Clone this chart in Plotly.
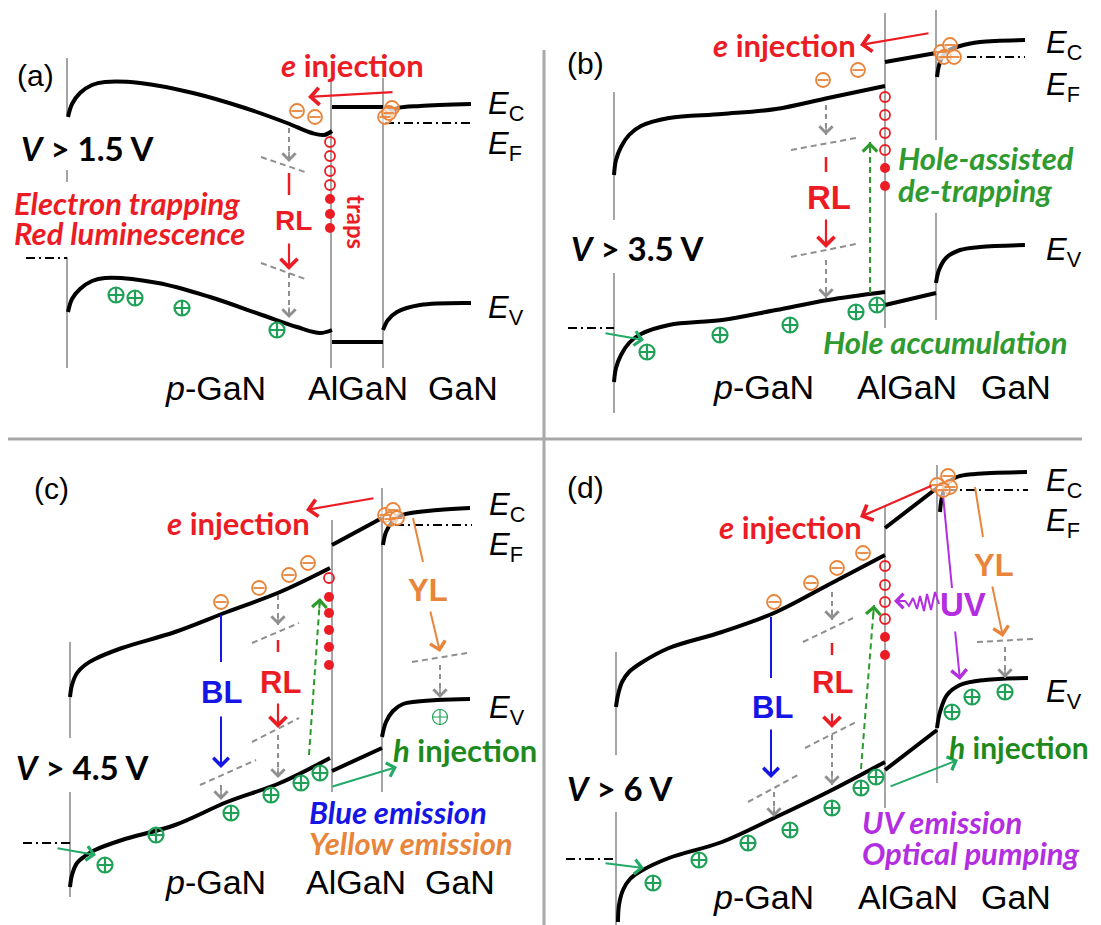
import plotly.graph_objects as go

# ---------------- data (pixel positions) ----------------
# band edges: (x, y) points
A_EC_P = [(68,117),(72,104),(80,93),(92,85),(105,82),(140,83),(193,93),(245,108),(287,123),(312,133),(324,135),(332,131)]
A_EC_AL = [(332,107),(383,107)]
A_EC_G = [(383,118),(388,112),(398,108),(420,106),(471,104)]
A_EV_P = [(68,312),(72,299),(80,289),(92,281),(105,278),(158,283),(210,297),(262,315),(297,327),(320,333),(332,330)]
A_EV_AL = [(332,342),(383,342)]
A_EV_G = [(383,330),(388,320),(397,312),(420,305),(471,303)]

B_EC_P = [(614,175),(616,160),(621,147),(629,135),(641,126),(669,118),(722,114),(776,109),(828,98),(885,86)]
B_EC_AL = [(885,62),(936,53)]
B_EC_G = [(937,77),(940,62),(946,52),(960,46),(980,42),(1025,40)]
B_EV_P = [(614,382),(616,368),(621,355),(629,343),(641,334),(669,325),(722,320),(776,310),(828,300),(885,292)]
B_EV_AL = [(885,305),(936,293)]
B_EV_G = [(936,283),(939,270),(946,258),(960,250),(980,247),(1025,245)]

C_EC_P = [(70,697),(72,685),(77,673),(85,665),(95,659),(122,648),(175,632),(227,612),(280,592),(330,568)]
C_EC_AL = [(332,545),(382,518)]
C_EC_G = [(383,545),(386,532),(392,522),(402,515),(438,510),(470,508)]
C_EV_P = [(70,887),(72,875),(77,863),(85,856),(95,850),(122,840),(175,825),(227,802),(280,783),(330,758)]
C_EV_AL = [(332,771),(382,748)]
C_EV_G = [(382,737),(386,722),(393,711),(403,704),(437,700),(470,699)]

D_EC_P = [(616,707),(618,695),(622,682),(629,672),(641,663),(669,648),(722,632),(774,613),(828,585),(885,555)]
D_EC_AL = [(885,528),(937,488)]
D_EC_G = [(940,512),(942,497),(947,484),(957,477),(975,474),(1027,472)]
D_EV_P = [(618,922),(619,905),(623,890),(630,879),(641,871),(669,858),(722,842),(774,818),(828,792),(885,762)]
D_EV_AL = [(885,770),(937,730)]
D_EV_G = [(937,728),(940,712),(947,695),(960,685),(985,680),(1028,678)]

# Fermi level dash-dot pieces: (x0, x1, y)
EF_LINES = [(26,67,258),(385,472,123),(568,614,328),(967,1025,57),
            (23,70,843),(395,472,525),(566,616,859),(947,1028,490)]

# gray interface lines: (x, y0, y1)
GRAY_V = [(67,58,115),(67,170,182),(67,257,368),(331,78,368),(383,78,368),
          (614,92,220),(614,273,413),(885,13,328),(936,10,140),(936,213,320),
          (70,642,738),(70,792,897),(332,520,792),(382,488,792),
          (616,652,755),(616,812,925),(885,507,808),(937,465,783)]
# frame lines: (x0, y0, x1, y1)
FRAME = [(8,439,1082,439),(544,50,544,925)]

# carriers
ELECTRONS = [(297,111),(315,117),(385,117),(392,108),(389,113),
             (823,80),(858,70),(941,52),(950,45),(944,57),(954,57),
             (221,602),(259,588),(289,575),(308,563),(385,515),(393,510),(390,519),(397,518),
             (774,602),(811,583),(837,568),(863,553),(937,485),(948,476),(950,487),(943,490)]
HOLES = [(116,295),(135,298),(182,308),(277,330),
         (647,352),(720,335),(790,325),(856,312),(877,305),
         (105,865),(156,835),(231,813),(271,795),(301,783),(320,773),
         (653,883),(699,860),(748,843),(790,830),(832,808),(861,788),(876,777),
         (952,712),(972,697),(1005,692)]
HOLES_THIN = [(440,717)]
TRAPS_OPEN = [(330,142),(330,156),(330,171),(330,185),
              (885,97),(885,115),(885,133),(885,150),
              (329,578),
              (885,566),(885,585),(885,602),(885,619)]
TRAPS_FILLED = [(330,199),(330,214),(330,228),
                (885,168),(885,186),
                (329,597),(329,613),(329,630),(329,647),(329,665),
                (885,637),(885,655)]

# arrows: (x0, y0, x1, y1)
RED_ARROWS = [(394,92,308,97),(930,33,860,45),(375,498,306,510),(933,485,860,517),
              (289,242,289,270),(826,218,826,248),(278,702,278,728),(832,712,832,728)]
RED_DASH = [(289,173,289,195),(826,157,826,172),(278,640,278,652),(832,643,832,655)]
GRAY_ARROWS = [(289,128,289,162),(289,273,289,318),(826,105,826,135),(826,260,826,298),
               (278,595,278,625),(278,735,278,778),(221,785,221,800),(440,665,440,698),
               (832,592,832,620),(832,735,832,785),(774,792,774,817),(1005,647,1005,678)]
GRAY_LEVELS = [(261,157,308,173),(261,263,308,280),(791,150,856,138),(791,257,856,244),
               (252,643,299,623),(252,742,299,718),(200,785,256,760),(412,662,467,653),
               (803,642,853,618),(805,748,856,722),(748,802,798,775),(977,642,1033,639)]
BLUE_LINES = [(221,615,221,662),(771,617,771,678)]
BLUE_ARROWS = [(221,715,221,768),(771,728,771,778)]
ORANGE_LINES = [(413,518,423,562),(975,487,983,537)]
ORANGE_ARROWS = [(430,610,440,652),(992,585,1003,637)]
PURPLE_LINES = [(943,495,952,588)]
PURPLE_ARROWS = [(955,630,960,680)]
UV_SQUIGGLE = [(939,604),(935,592),(931,610),(927,594),(924,611),(920,596),(917,609),(913,598),(909,606),(905,601),(896,601)]
GREEN_DASH_ARROWS = [(870,293,870,142),(309,755,320,598),(861,769,874,605)]
GREEN_ARROWS = [(604,333,644,340),(56,848,96,855),(604,863,644,868),(331,787,397,767),(889,787,958,760)]

# texts: (text, x, y, size, color key, font key, anchor)
TEXTS = [
    ("(a)", 15, 75, 30, "k", "ar", "left"),
    ("<b><i>e</i> injection</b>", 279, 65, 31, "r", "ca", "left"),
    ("<i>E</i><sub>C</sub>", 486, 106, 31, "k", "ar", "left"),
    ("<i>E</i><sub>F</sub>", 486, 146, 31, "k", "ar", "left"),
    ("<i>E</i><sub>V</sub>", 486, 310, 31, "k", "ar", "left"),
    ("<b><i>V</i> &gt; 1.5 V</b>", 19, 148, 33, "k", "ca", "left"),
    ("<b><i>Electron trapping</i></b>", 12, 203, 31, "r", "ca", "left"),
    ("<b><i>Red luminescence</i></b>", 12, 233, 31, "r", "ca", "left"),
    ("<b>RL</b>", 293, 220, 28, "r", "ar", "center"),
    ("<i>p</i>-GaN", 163, 388, 34, "k", "ar", "left"),
    ("AlGaN", 306, 388, 34, "k", "ar", "left"),
    ("GaN", 426, 388, 34, "k", "ar", "left"),

    ("(b)", 565, 63, 30, "k", "ar", "left"),
    ("<b><i>e</i> injection</b>", 711, 45, 31, "r", "ca", "left"),
    ("<i>E</i><sub>C</sub>", 1044, 45, 31, "k", "ar", "left"),
    ("<i>E</i><sub>F</sub>", 1044, 87, 31, "k", "ar", "left"),
    ("<i>E</i><sub>V</sub>", 1044, 252, 31, "k", "ar", "left"),
    ("<b><i>V</i> &gt; 3.5 V</b>", 569, 248, 33, "k", "ca", "left"),
    ("<b>RL</b>", 829, 197, 33, "r", "ar", "center"),
    ("<b><i>Hole-assisted</i></b>", 896, 158, 31, "g", "ca", "left"),
    ("<b><i>de-trapping</i></b>", 896, 190, 31, "g", "ca", "left"),
    ("<b><i>Hole accumulation</i></b>", 821, 342, 31, "g", "ca", "left"),
    ("<i>p</i>-GaN", 711, 387, 34, "k", "ar", "left"),
    ("AlGaN", 855, 387, 34, "k", "ar", "left"),
    ("GaN", 979, 387, 34, "k", "ar", "left"),

    ("(c)", 32, 488, 30, "k", "ar", "left"),
    ("<b><i>e</i> injection</b>", 165, 523, 31, "r", "ca", "left"),
    ("<i>E</i><sub>C</sub>", 487, 507, 31, "k", "ar", "left"),
    ("<i>E</i><sub>F</sub>", 487, 547, 31, "k", "ar", "left"),
    ("<i>E</i><sub>V</sub>", 487, 710, 31, "k", "ar", "left"),
    ("<b><i>V</i> &gt; 4.5 V</b>", 14, 767, 33, "k", "ca", "left"),
    ("<b>BL</b>", 221, 692, 31, "b", "ar", "center"),
    ("<b>RL</b>", 280, 682, 31, "r", "ar", "center"),
    ("<b>YL</b>", 428, 590, 31, "o", "ar", "center"),
    ("<b><i>h</i> injection</b>", 391, 750, 31, "gd", "ca", "left"),
    ("<b><i>Blue emission</i></b>", 307, 812, 31, "b", "ca", "left"),
    ("<b><i>Yellow emission</i></b>", 307, 843, 31, "o", "ca", "left"),
    ("<i>p</i>-GaN", 163, 882, 34, "k", "ar", "left"),
    ("AlGaN", 304, 882, 34, "k", "ar", "left"),
    ("GaN", 423, 882, 34, "k", "ar", "left"),

    ("(d)", 565, 487, 30, "k", "ar", "left"),
    ("<b><i>e</i> injection</b>", 717, 527, 31, "r", "ca", "left"),
    ("<i>E</i><sub>C</sub>", 1044, 483, 31, "k", "ar", "left"),
    ("<i>E</i><sub>F</sub>", 1044, 523, 31, "k", "ar", "left"),
    ("<i>E</i><sub>V</sub>", 1044, 694, 31, "k", "ar", "left"),
    ("<b><i>V</i> &gt; 6 V</b>", 565, 788, 33, "k", "ca", "left"),
    ("<b>BL</b>", 772, 707, 31, "b", "ar", "center"),
    ("<b>RL</b>", 832, 682, 31, "r", "ar", "center"),
    ("<b>YL</b>", 994, 565, 31, "o", "ar", "center"),
    ("<b>UV</b>", 963, 604, 33, "p", "ar", "center"),
    ("<b><i>h</i> injection</b>", 947, 747, 30, "gd", "ca", "left"),
    ("<b><i>UV emission</i></b>", 860, 822, 31, "p", "ca", "left"),
    ("<b><i>Optical pumping</i></b>", 860, 853, 31, "p", "ca", "left"),
    ("<i>p</i>-GaN", 711, 897, 34, "k", "ar", "left"),
    ("AlGaN", 856, 897, 34, "k", "ar", "left"),
    ("GaN", 979, 897, 34, "k", "ar", "left"),
]
TRAPS_LABEL = ("<b>traps</b>", 357, 222)

# ---------------- styles ----------------
COL = {"k": "#000000", "r": "#EC1C24", "o": "#E9853B", "g": "#2F9A2F", "gd": "#1E8A1E",
       "b": "#1515E6", "p": "#B22EE0"}
FONT = {"ca": "Lato", "ar": "Liberation Sans"}
HOLE_GREEN = "#1FA257"
ARROW_GREEN = "#22AA66"
GRAY = "#8F8F8F"
FRAME_GRAY = "#A8A8A8"
PAGE_MARGIN = 8  # the page body margin; the axes are offset so data units = page pixels

fig = go.Figure()


def add_line(xs, ys, color, width, dash=None, shape="linear"):
    fig.add_trace(go.Scatter(x=xs, y=ys, mode="lines", hoverinfo="skip", showlegend=False,
                             line=dict(color=color, width=width, dash=dash, shape=shape,
                                       smoothing=1.0 if shape == "spline" else None)))


def add_segments(segs, color, width, dash=None):
    xs, ys = [], []
    for x0, y0, x1, y1 in segs:
        xs += [x0, x1, None]
        ys += [y0, y1, None]
    add_line(xs, ys, color, width, dash)


def add_arrow(x0, y0, x1, y1, color, width=2.0, size=1.5, head=4):
    fig.add_annotation(x=x1, y=y1, ax=x0, ay=y0, xref="x", yref="y", axref="x", ayref="y",
                       text="", showarrow=True, arrowhead=head, arrowsize=size,
                       arrowwidth=width, arrowcolor=color)


def add_head(x0, y0, x1, y1, color, width=1.6, size=1.6):
    dx, dy = x1 - x0, y1 - y0
    L = (dx * dx + dy * dy) ** 0.5
    add_arrow(x1 - dx / L * 12, y1 - dy / L * 12, x1, y1, color, width, size)


# frame
add_segments(FRAME, FRAME_GRAY, 3)
# interface lines
add_segments([(x, y0, x, y1) for x, y0, y1 in GRAY_V], GRAY, 1.6)
# Fermi levels
add_segments([(x0, y, x1, y) for x0, x1, y in EF_LINES], "black", 2, dash="9px,4px,2px,4px")

# bands
for pts in [A_EC_P, A_EV_P, A_EC_G, A_EV_G, B_EC_P, B_EV_P, B_EC_G, B_EV_G,
            C_EC_P, C_EV_P, C_EC_G, C_EV_G, D_EC_P, D_EV_P, D_EC_G, D_EV_G]:
    add_line([p[0] for p in pts], [p[1] for p in pts], "black", 4, shape="spline")
for pts in [A_EC_AL, A_EV_AL, B_EC_AL, B_EV_AL, C_EC_AL, C_EV_AL, D_EC_AL, D_EV_AL]:
    add_line([p[0] for p in pts], [p[1] for p in pts], "black", 4)

# gray trap levels and dashed arrows
add_segments(GRAY_LEVELS, GRAY, 2, dash="6px,4px")
add_segments(GRAY_ARROWS, GRAY, 2, dash="5px,4px")
for a in GRAY_ARROWS:
    add_head(*a, GRAY)

# red
add_segments(RED_DASH, COL["r"], 2.5)
for a in RED_ARROWS:
    add_arrow(*a, COL["r"], width=2.2, size=1.5)
# blue
add_segments(BLUE_LINES, COL["b"], 2)
for a in BLUE_ARROWS:
    add_arrow(*a, COL["b"], width=2, size=1.5)
# orange
add_segments(ORANGE_LINES, COL["o"], 2)
for a in ORANGE_ARROWS:
    add_arrow(*a, COL["o"], width=2, size=1.5)
# purple
add_segments(PURPLE_LINES, COL["p"], 2)
for a in PURPLE_ARROWS:
    add_arrow(*a, COL["p"], width=2, size=1.5)
add_line([p[0] for p in UV_SQUIGGLE], [p[1] for p in UV_SQUIGGLE], COL["p"], 2)
add_head(UV_SQUIGGLE[-2][0], UV_SQUIGGLE[-2][1], UV_SQUIGGLE[-1][0] - 2, UV_SQUIGGLE[-1][1], COL["p"], 2, 1.4)
# green
add_segments(GREEN_DASH_ARROWS, "#2A9A2A", 2, dash="6px,4px")
for a in GREEN_DASH_ARROWS:
    add_head(*a, "#2A9A2A", 2, 1.4)
for a in GREEN_ARROWS:
    add_arrow(*a, ARROW_GREEN, width=2, size=1.4)

# traps
fig.add_trace(go.Scatter(x=[p[0] for p in TRAPS_OPEN], y=[p[1] for p in TRAPS_OPEN], mode="markers",
                         hoverinfo="skip", showlegend=False,
                         marker=dict(symbol="circle-open", size=10, color=COL["r"], line=dict(width=1.8))))
fig.add_trace(go.Scatter(x=[p[0] for p in TRAPS_FILLED], y=[p[1] for p in TRAPS_FILLED], mode="markers",
                         hoverinfo="skip", showlegend=False,
                         marker=dict(symbol="circle", size=10, color=COL["r"], line=dict(width=0))))
# electrons
ex, ey = [p[0] for p in ELECTRONS], [p[1] for p in ELECTRONS]
fig.add_trace(go.Scatter(x=ex, y=ey, mode="markers", hoverinfo="skip", showlegend=False,
                         marker=dict(symbol="circle", size=14, color="rgba(255,255,255,0.6)",
                                     line=dict(width=1.8, color=COL["o"]))))
fig.add_trace(go.Scatter(x=ex, y=ey, mode="markers", hoverinfo="skip", showlegend=False,
                         marker=dict(symbol="line-ew", size=8, line=dict(width=1.8, color=COL["o"]))))
# holes
fig.add_trace(go.Scatter(x=[p[0] for p in HOLES], y=[p[1] for p in HOLES], mode="markers",
                         hoverinfo="skip", showlegend=False,
                         marker=dict(symbol="circle-cross-open", size=15, color=HOLE_GREEN, line=dict(width=2.2))))
fig.add_trace(go.Scatter(x=[p[0] for p in HOLES_THIN], y=[p[1] for p in HOLES_THIN], mode="markers",
                         hoverinfo="skip", showlegend=False,
                         marker=dict(symbol="circle-cross-open", size=15, color=HOLE_GREEN, line=dict(width=1.2))))

# texts
for t, x, y, s, c, f, anc in TEXTS:
    fig.add_annotation(x=x, y=y, xref="x", yref="y", text=t, showarrow=False, xanchor=anc, yanchor="middle",
                       font=dict(size=s, color=COL[c], family=FONT[f]))
fig.add_annotation(x=TRAPS_LABEL[1], y=TRAPS_LABEL[2], xref="x", yref="y", text=TRAPS_LABEL[0],
                   showarrow=False, textangle=90, font=dict(size=24, color=COL["r"], family="Lato"))

W, H = 1101 - PAGE_MARGIN, 925 - PAGE_MARGIN
fig.update_layout(width=W, height=H, margin=dict(l=0, r=0, t=0, b=0),
                  paper_bgcolor="white", plot_bgcolor="white", showlegend=False,
                  xaxis=dict(range=[PAGE_MARGIN, PAGE_MARGIN + W], visible=False, fixedrange=True),
                  yaxis=dict(range=[PAGE_MARGIN + H, PAGE_MARGIN], visible=False, fixedrange=True))
fig.write_html("out.html")
